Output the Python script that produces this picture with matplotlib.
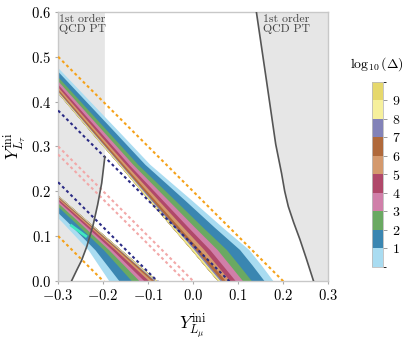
import numpy as np
import matplotlib
matplotlib.use("Agg")
import matplotlib.pyplot as plt
from matplotlib.colors import ListedColormap, BoundaryNorm
import matplotlib.cm as cm

plt.rcParams['font.family'] = ['cmr10', 'DejaVu Serif']
plt.rcParams['mathtext.fontset'] = 'cm'
plt.rcParams['axes.formatter.use_mathtext'] = True

# colour levels of log10(Delta), 0..10
levels = np.arange(0, 11)
band_colors = ['#a9dcf1', '#3a86b1', '#6aa962', '#d07fa9', '#b0486a',
               '#d4996d', '#b0693b', '#8282b8', '#f6f09c', '#e6d86c']

# upper band: sharp edge on lower-left side, soft edge upper-right
up_y = [0.0, 0.035, 0.07, 0.12, 0.18, 0.26, 0.33, 0.475, 0.55]
up_edge = [0.055, 0.025, -0.004, -0.047, -0.098, -0.165, -0.225, -0.348, -0.411]
up_outer = [0.178, 0.152, 0.124, 0.065, -0.003, -0.096, -0.162, -0.300, -0.370]
up_frac = [1.0, 0.84, 0.61, 0.45, 0.32, 0.22, 0.14, 0.075, 0.045, 0.02]

# lower band: sharp edge on upper-right side, soft edge lower-left
lo_y = [0.0, 0.069, 0.132, 0.2, 0.25]
lo_edge = [-0.080, -0.160, -0.233, -0.311, -0.369]
lo_outer = [-0.187, -0.233, -0.292, -0.360, -0.410]
lo_frac = [1.0, 0.79, 0.53, 0.37, 0.27, 0.17, 0.11, 0.06, 0.035, 0.015]

# small bright streak inside lower band
streak_x = [-0.273, -0.236]
streak_y = [0.125, 0.098]

# QCD phase transition boundaries
qcd_left_x = [-0.270, -0.258, -0.248, -0.236, -0.222, -0.212, -0.203, -0.196]
qcd_left_y = [0.0, 0.025, 0.045, 0.077, 0.125, 0.170, 0.218, 0.277]
qcd_right_x = [0.268, 0.252, 0.238, 0.224, 0.212, 0.204, 0.197, 0.184, 0.163, 0.141]
qcd_right_y = [0.0, 0.05, 0.092, 0.13, 0.166, 0.2, 0.24, 0.305, 0.45, 0.6]

# dashed lines: Y_tau = c - Y_mu
orange_c = [0.2, -0.2]
navy_c = [0.08, -0.08]
pink_c = [0.0, -0.018]

xticks = [-0.3, -0.2, -0.1, 0.0, 0.1, 0.2, 0.3]
yticks = [0.0, 0.1, 0.2, 0.3, 0.4, 0.5, 0.6]

fig = plt.figure(figsize=(4.15, 3.4), dpi=100)
ax = fig.add_axes([0.140, 0.174, 0.650, 0.791])

gray = '#e6e6e6'
# left gray region
poly_x = [-0.3] + qcd_left_x + [qcd_left_x[-1], -0.3]
poly_y = [0.0] + qcd_left_y + [0.6, 0.6]
ax.fill(poly_x, poly_y, color=gray, lw=0, zorder=0)
ax.fill_betweenx(qcd_right_y, qcd_right_x, 0.3, color=gray, lw=0, zorder=0)

# bands
uy = np.array(up_y)
ue = np.array(up_edge)
uo = np.array(up_outer)
for k, f in enumerate(up_frac):
    ax.fill_betweenx(uy, ue, ue + f * (uo - ue), color=band_colors[k], lw=0, zorder=1)

ly = np.array(lo_y)
le = np.array(lo_edge)
lo = np.array(lo_outer)
for k, f in enumerate(lo_frac):
    ax.fill_betweenx(ly, le - f * (le - lo), le, color=band_colors[k], lw=0, zorder=1)

ax.plot(streak_x, streak_y, color='#40e8c0', lw=2.0, solid_capstyle='butt', zorder=2)

# dashed lines
xx = np.array([-0.3, 0.3])
for c in orange_c:
    ax.plot(xx, c - xx, color='#f5a21a', lw=1.5, ls=(0, (1.4, 1.4)), zorder=3)
for c in navy_c:
    ax.plot(xx, c - xx, color='#2b2b85', lw=1.5, ls=(0, (1.4, 1.4)), zorder=3)
for c in pink_c:
    ax.plot(xx, c - xx, color='#f2a8a8', lw=1.5, ls=(0, (1.4, 1.4)), zorder=3)

ax.plot(qcd_left_x, qcd_left_y, color='#555555', lw=1.2, zorder=4)
ax.plot(qcd_right_x, qcd_right_y, color='#555555', lw=1.2, zorder=4)

ax.text(-0.297, 0.595, '1st order\nQCD PT', fontsize=8.5, color='#444444',
        va='top', ha='left', linespacing=1.05, zorder=5)
ax.text(0.156, 0.595, '1st order\nQCD PT', fontsize=8.5, color='#444444',
        va='top', ha='left', linespacing=1.05, zorder=5)

ax.set_xlim(-0.3, 0.3)
ax.set_ylim(0, 0.6)
ax.set_xticks(xticks)
ax.set_yticks(yticks)
ax.set_xticklabels([f'${t:.1f}$' for t in xticks])
ax.set_yticklabels([f'${t:.1f}$' for t in yticks])
ax.tick_params(labelsize=10.5, length=2.5, color='#aaaaaa', width=0.8, pad=2.5)
for s in ax.spines.values():
    s.set_color('#c8c8c8')
    s.set_linewidth(1.0)
ax.set_xlabel(r'$Y_{L_\mu}^{\rm ini}$', fontsize=12.5, labelpad=6)
ax.set_ylabel(r'$Y_{L_\tau}^{\rm ini}$', fontsize=12.5)
ax.yaxis.set_label_coords(-0.112, 0.5)

# colorbar
cax = fig.add_axes([0.896, 0.215, 0.027, 0.544])
cmap = ListedColormap(band_colors)
norm = BoundaryNorm(levels, cmap.N)
cb = fig.colorbar(cm.ScalarMappable(norm=norm, cmap=cmap), cax=cax)
cb.set_ticks(levels[1:-1])
cb.set_ticklabels([f'${v}$' for v in levels[1:-1]])
cb.ax.tick_params(labelsize=10, length=3, color='#888888', width=0.6)
cb.outline.set_edgecolor('#bbbbbb')
cb.outline.set_linewidth(0.6)
cax.set_title(r'$\log_{10}(\Delta)$', fontsize=10, pad=10)

fig.savefig('out.png', dpi=100)
